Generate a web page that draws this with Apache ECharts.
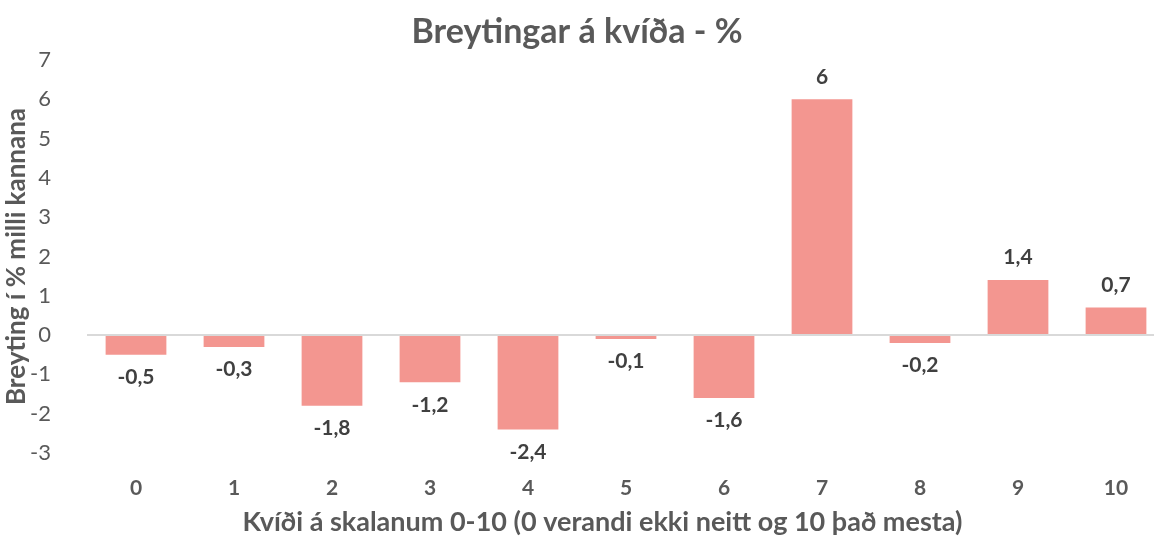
<!DOCTYPE html>
<html>
<head>
<meta charset="utf-8">
<script src="https://cdn.jsdelivr.net/npm/echarts@6/dist/echarts.min.js"></script>
<style>
  html, body { margin: 0; padding: 0; background: #fff; }
  #chart { width: 1154px; height: 538px; }
</style>
</head>
<body>
<div id="chart"></div>
<script>
var categories = ['0', '1', '2', '3', '4', '5', '6', '7', '8', '9', '10'];
var changes = [-0.5, -0.3, -1.8, -1.2, -2.4, -0.1, -1.6, 6, -0.2, 1.4, 0.7];
var yTicks = { min: -3, max: 7, interval: 1 };

var chart = echarts.init(document.getElementById('chart'));

// data labels: above for positive bars, below for negative ones
var barData = changes.map(function (v) {
    return {
        value: v,
        label: { position: v >= 0 ? 'top' : 'bottom' }
    };
});

var font = 'Lato, "Open Sans", sans-serif';

var option = {
    animation: false,
    title: {
        text: 'Breytingar á kvíða - %',
        left: 'center',
        top: 10,
        textStyle: { fontFamily: font, fontSize: 34, fontWeight: 'bold', color: '#595959' }
    },
    grid: { left: 87, top: 60, width: 1078, height: 393, outerBoundsMode: 'none', containLabel: false },
    xAxis: {
        type: 'category',
        data: categories,
        axisLine: { show: false, onZero: false },
        axisTick: { show: false },
        axisLabel: { margin: 25, fontFamily: font, fontSize: 21, fontWeight: 'bold', color: '#595959' },
        name: 'Kvíði á skalanum 0-10 (0 verandi ekki neitt og 10 það mesta)',
        nameLocation: 'middle',
        nameGap: 56,
        nameTextStyle: { fontFamily: font, fontSize: 27, fontWeight: 'bold', color: '#595959', padding: [0, 47, 0, 0] }
    },
    yAxis: {
        type: 'value',
        min: yTicks.min,
        max: yTicks.max,
        interval: yTicks.interval,
        splitLine: { show: false },
        axisLine: { show: false },
        axisTick: { show: false },
        axisLabel: { margin: 36, fontFamily: font, fontSize: 22, color: '#595959' },
        name: 'Breyting í % milli kannana',
        nameLocation: 'middle',
        nameGap: 57,
        nameMoveOverlap: false,
        nameTextStyle: { fontFamily: font, fontSize: 26, fontWeight: 'bold', color: '#595959' }
    },
    series: [{
        type: 'bar',
        data: barData,
        barCategoryGap: '38%',
        itemStyle: { color: '#F39690' },
        label: {
            show: true,
            distance: 12,
            fontFamily: font,
            fontSize: 21,
            fontWeight: 'bold',
            color: '#404040',
            formatter: function (p) { return String(p.value).replace('.', ','); }
        },
        markLine: {
            silent: true,
            symbol: 'none',
            label: { show: false },
            lineStyle: { color: '#D9D9D9', width: 2, type: 'solid' },
            data: [{ yAxis: 0 }]
        }
    }]
};

chart.setOption(option);
</script>
</body>
</html>
